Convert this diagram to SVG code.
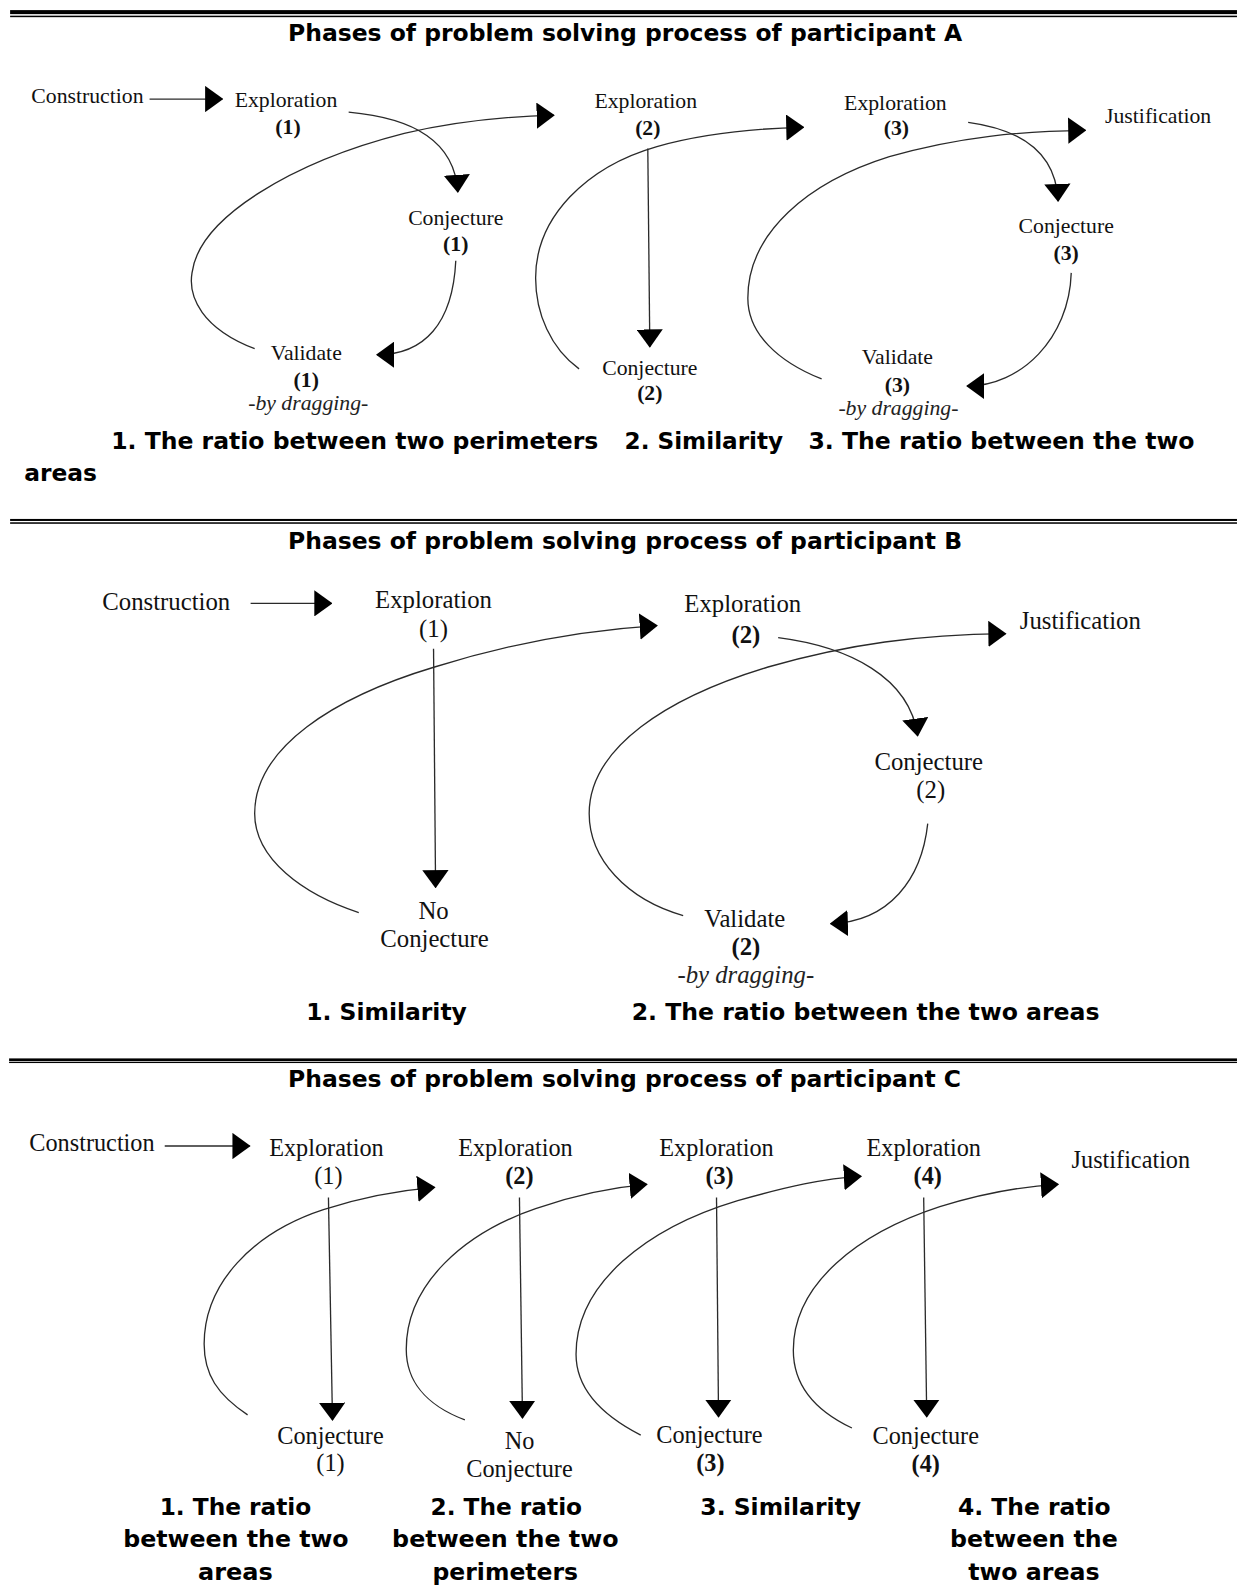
<svg xmlns="http://www.w3.org/2000/svg" width="1237" height="1585" viewBox="0 0 1237 1585">
<style>
.lbl{font-family:"Liberation Serif","Times New Roman",serif;fill:#111;text-anchor:middle}
.a{font-size:21.5px}
.b{font-size:24.5px}
.c{font-size:24px}
.num{font-weight:bold}
.it{font-style:italic;fill:#222}
.hd{font-family:"DejaVu Sans","Verdana",sans-serif;font-weight:bold;font-size:23px;fill:#000}
.conn{fill:none;stroke:#2a2a2a;stroke-width:1.3}
.rule{fill:#000}
</style>
<defs>
<marker id="ah" markerUnits="userSpaceOnUse" viewBox="0 0 18 26" refX="17" refY="13" markerWidth="18" markerHeight="26" orient="auto">
<path d="M0,0 L18,13 L0,26 Z" fill="#000"/>
</marker>
</defs>
<rect width="1237" height="1585" fill="#fff"/>
<g transform="scale(1.0106)">
<!-- rules -->
<g id="rules">
<rect class="rule" x="10" y="10" width="1214" height="4"/>
<rect class="rule" x="10" y="15.5" width="1214" height="1.5"/>
<rect class="rule" x="10" y="513.5" width="1214" height="2"/>
<rect class="rule" x="10" y="516.8" width="1214" height="1.5"/>
<rect class="rule" x="9" y="1047.3" width="1215" height="2.6"/>
<rect class="rule" x="9" y="1050.6" width="1215" height="1.3"/>
</g>

<!-- connectors -->
<g id="connectors" class="conn" marker-end="url(#ah)">
<!-- A -->
<path d="M148,98 L220,98"/>
<path d="M345,111 C410,117 450,140 453,190"/>
<path d="M451,258 C448,320 420,351 373,351"/>
<path d="M252,345 C200,325 186,294 190,270 C197,215 290,160 400,132 C460,118 510,115 548,114"/>
<path d="M641,147 L643,343"/>
<path d="M573,365 C545,345 530,310 530,275 C530,215 580,165 650,145 C700,131 750,127 795,126"/>
<path d="M958,121 C1010,128 1045,150 1047,199"/>
<path d="M1060,270 C1058,335 1010,382 957,382"/>
<path d="M813,375 C770,358 740,330 740,295 C740,230 800,180 880,155 C950,135 1010,130 1074,129"/>
<!-- B -->
<path d="M248,597 L328,597"/>
<path d="M429,642 L431,878"/>
<path d="M355,903 C300,885 252,850 252,805 C252,740 330,690 430,660 C500,638 570,624 650,619"/>
<path d="M770,631 C840,640 900,670 908,728"/>
<path d="M918,815 C912,870 880,912 822,914"/>
<path d="M676,906 C620,890 583,850 583,805 C583,740 660,690 760,660 C840,637 910,628 995,627"/>
<!-- C -->
<path d="M163,1134 L247,1134"/>
<path d="M325,1185 L329,1405"/>
<path d="M245,1400 C215,1380 202,1360 202,1330 C202,1270 250,1220 320,1197 C360,1184 395,1178 430,1175"/>
<path d="M514,1185 L517,1403"/>
<path d="M460,1405 C420,1390 402,1365 402,1335 C402,1270 460,1220 530,1196 C570,1182 605,1175 640,1172"/>
<path d="M709,1185 L711,1402"/>
<path d="M634,1420 C595,1400 570,1375 570,1340 C570,1270 640,1215 730,1188 C780,1174 815,1166 852,1164"/>
<path d="M914,1185 L917,1402"/>
<path d="M843,1413 C805,1395 785,1370 785,1336 C785,1270 850,1220 930,1194 C975,1180 1010,1174 1047,1172"/>
</g>

<!-- Section A -->
<g id="titleA"><text class="hd" x="285" y="41" textLength="667" lengthAdjust="spacingAndGlyphs">Phases of problem solving process of participant A</text></g>
<g id="A-construction"><text class="lbl a" x="86.5" y="102">Construction</text></g>
<g id="A-exploration1"><text class="lbl a" x="283" y="106">Exploration</text><text class="lbl a num" x="285" y="133">(1)</text></g>
<g id="A-conjecture1"><text class="lbl a" x="451" y="223">Conjecture</text><text class="lbl a num" x="451" y="248">(1)</text></g>
<g id="A-validate1"><text class="lbl a" x="303" y="356">Validate</text><text class="lbl a num" x="303" y="383">(1)</text><text class="lbl a it" x="305" y="406">-by dragging-</text></g>
<g id="A-exploration2"><text class="lbl a" x="639" y="107">Exploration</text><text class="lbl a num" x="641" y="134">(2)</text></g>
<g id="A-conjecture2"><text class="lbl a" x="643" y="371">Conjecture</text><text class="lbl a num" x="643" y="396">(2)</text></g>
<g id="A-exploration3"><text class="lbl a" x="886" y="109">Exploration</text><text class="lbl a num" x="887" y="134">(3)</text></g>
<g id="A-justification"><text class="lbl a" x="1146" y="122">Justification</text></g>
<g id="A-conjecture3"><text class="lbl a" x="1055" y="231">Conjecture</text><text class="lbl a num" x="1055" y="257">(3)</text></g>
<g id="A-validate3"><text class="lbl a" x="888" y="360">Validate</text><text class="lbl a num" x="888" y="388">(3)</text><text class="lbl a it" x="889" y="411">-by dragging-</text></g>
<g id="A-captions">
<text class="hd" x="110" y="444" textLength="482" lengthAdjust="spacingAndGlyphs">1. The ratio between two perimeters</text>
<text class="hd" x="618" y="444" textLength="157" lengthAdjust="spacingAndGlyphs">2. Similarity</text>
<text class="hd" x="800" y="444" textLength="382" lengthAdjust="spacingAndGlyphs">3. The ratio between the two</text>
<text class="hd" x="24" y="476" textLength="72" lengthAdjust="spacingAndGlyphs">areas</text>
</g>

<!-- Section B -->
<g id="titleB"><text class="hd" x="285" y="543" textLength="667" lengthAdjust="spacingAndGlyphs">Phases of problem solving process of participant B</text></g>
<g id="B-construction"><text class="lbl b" x="164.5" y="604">Construction</text></g>
<g id="B-exploration1"><text class="lbl b" x="429" y="602">Exploration</text><text class="lbl b" x="429" y="630">(1)</text></g>
<g id="B-noconjecture"><text class="lbl b" x="429" y="909">No</text><text class="lbl b" x="430" y="937">Conjecture</text></g>
<g id="B-exploration2"><text class="lbl b" x="735" y="606">Exploration</text><text class="lbl b num" x="738" y="636">(2)</text></g>
<g id="B-justification"><text class="lbl b" x="1069" y="622">Justification</text></g>
<g id="B-conjecture2"><text class="lbl b" x="919" y="762">Conjecture</text><text class="lbl b" x="921" y="790">(2)</text></g>
<g id="B-validate2"><text class="lbl b" x="737" y="917">Validate</text><text class="lbl b num" x="738" y="945">(2)</text><text class="lbl b it" x="738" y="973">-by dragging-</text></g>
<g id="B-captions">
<text class="hd" x="303" y="1009" textLength="159" lengthAdjust="spacingAndGlyphs">1. Similarity</text>
<text class="hd" x="625" y="1009" textLength="463" lengthAdjust="spacingAndGlyphs">2. The ratio between the two areas</text>
</g>

<!-- Section C -->
<g id="titleC"><text class="hd" x="285" y="1076" textLength="666" lengthAdjust="spacingAndGlyphs">Phases of problem solving process of participant C</text></g>
<g id="C-construction"><text class="lbl c" x="91" y="1139">Construction</text></g>
<g id="C-exploration1"><text class="lbl c" x="323" y="1144">Exploration</text><text class="lbl c" x="325" y="1172">(1)</text></g>
<g id="C-conjecture1"><text class="lbl c" x="327" y="1429">Conjecture</text><text class="lbl c" x="327" y="1456">(1)</text></g>
<g id="C-exploration2"><text class="lbl c" x="510" y="1144">Exploration</text><text class="lbl c num" x="514" y="1172">(2)</text></g>
<g id="C-noconjecture"><text class="lbl c" x="514" y="1434">No</text><text class="lbl c" x="514" y="1462">Conjecture</text></g>
<g id="C-exploration3"><text class="lbl c" x="709" y="1144">Exploration</text><text class="lbl c num" x="712" y="1172">(3)</text></g>
<g id="C-conjecture3"><text class="lbl c" x="702" y="1428">Conjecture</text><text class="lbl c num" x="703" y="1456">(3)</text></g>
<g id="C-exploration4"><text class="lbl c" x="914" y="1144">Exploration</text><text class="lbl c num" x="918" y="1172">(4)</text></g>
<g id="C-conjecture4"><text class="lbl c" x="916" y="1429">Conjecture</text><text class="lbl c num" x="916" y="1457">(4)</text></g>
<g id="C-justification"><text class="lbl c" x="1119" y="1156">Justification</text></g>
<g id="C-captions">
<text class="hd" x="158" y="1499" textLength="150" lengthAdjust="spacingAndGlyphs">1. The ratio</text>
<text class="hd" x="122" y="1531" textLength="223" lengthAdjust="spacingAndGlyphs">between the two</text>
<text class="hd" x="196" y="1563" textLength="74" lengthAdjust="spacingAndGlyphs">areas</text>
<text class="hd" x="426" y="1499" textLength="150" lengthAdjust="spacingAndGlyphs">2. The ratio</text>
<text class="hd" x="388" y="1531" textLength="224" lengthAdjust="spacingAndGlyphs">between the two</text>
<text class="hd" x="428" y="1563" textLength="144" lengthAdjust="spacingAndGlyphs">perimeters</text>
<text class="hd" x="693" y="1499" textLength="159" lengthAdjust="spacingAndGlyphs">3. Similarity</text>
<text class="hd" x="948" y="1499" textLength="151" lengthAdjust="spacingAndGlyphs">4. The ratio</text>
<text class="hd" x="940" y="1531" textLength="166" lengthAdjust="spacingAndGlyphs">between the</text>
<text class="hd" x="958" y="1563" textLength="130" lengthAdjust="spacingAndGlyphs">two areas</text>
</g>
</g>
</svg>
